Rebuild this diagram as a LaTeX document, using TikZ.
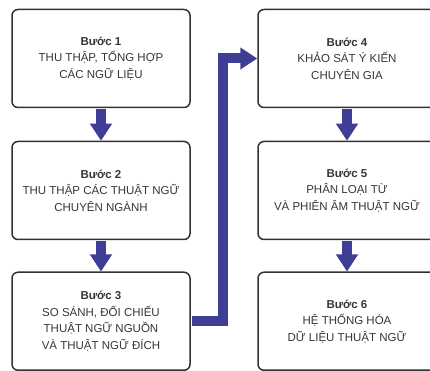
\documentclass[tikz,border=0pt]{standalone}
\usepackage{fontspec}
\setmainfont{Liberation Sans}
\usetikzlibrary{arrows.meta}
\definecolor{flowblue}{RGB}{62,62,150}
\definecolor{boxline}{RGB}{50,50,50}
\definecolor{txt}{RGB}{55,55,55}
\begin{document}
\begin{tikzpicture}[x=1pt,y=1pt,
  stepbox/.style={draw=boxline, line width=1.5pt, rounded corners=6pt, fill=white,
    minimum width=178pt, minimum height=98pt, align=center, text=txt,
    font=\fontsize{11.5}{16.5}\selectfont, inner sep=0pt},
  flow/.style={draw=flowblue, line width=10pt, line join=miter,
    -{Triangle[width=21pt,length=17pt]}, shorten <=0.75pt}]
\useasboundingbox[fill=white] (0,0) rectangle (430,371);
\node[stepbox] (b1) at (101,312.5) {\textbf{Bước 1}\\THU THẬP, TỔNG HỢP\\CÁC NGỮ LIỆU};
\node[stepbox] (b2) at (101,180.5) {\textbf{Bước 2}\\THU THẬP CÁC THUẬT NGỮ\\CHUYÊN NGÀNH};
\node[stepbox] (b3) at (101,49.75) {\textbf{Bước 3}\\SO SÁNH, ĐỐI CHIẾU\\THUẬT NGỮ NGUỒN\\VÀ THUẬT NGỮ ĐÍCH};
\node[stepbox] (b4) at (347,312.5) {\textbf{Bước 4}\\KHẢO SÁT Ý KIẾN\\CHUYÊN GIA};
\node[stepbox] (b5) at (347,180.5) {\textbf{Bước 5}\\PHÂN LOẠI TỪ\\VÀ PHIÊN ÂM THUẬT NGỮ};
\node[stepbox] (b6) at (347,49.75) {\textbf{Bước 6}\\HỆ THỐNG HÓA\\DỮ LIỆU THUẬT NGỮ};
\coordinate (k) at (223,0);
\draw[flow] (b1.south) -- (b2.north);
\draw[flow] (b2.south) -- (b3.north);
\draw[flow] (b4.south) -- (b5.north);
\draw[flow] (b5.south) -- (b6.north);
\draw[flow] (b3.east) -- (b3.east -| k) |- (b4.west);
\end{tikzpicture}
\end{document}
